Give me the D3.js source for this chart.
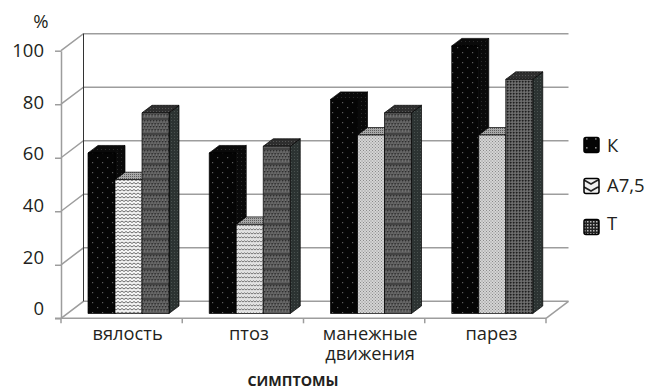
<!DOCTYPE html>
<html>
<head>
<meta charset="utf-8">
<script src="https://cdn.jsdelivr.net/npm/d3@7"></script>
<style>
  body { margin: 0; background: #fff; }
  text { font-family: "Open Sans", sans-serif; fill: #231f20; }
</style>
</head>
<body>
<svg id="chart" width="646" height="389"></svg>
<script>
const categories = ["вялость", "птоз", "манежные движения", "парез"];
const seriesNames = ["К", "А7,5", "Т"];
const valuesK = [60, 60, 80, 100];
const valuesA = [50, 33.3, 66.7, 66.7];
const valuesT = [75, 62.5, 75, 87.5];
const yTicks = [0, 20, 40, 60, 80, 100];

const svg = d3.select("#chart");
const defs = svg.append("defs");

// fill patterns, the scan makes them look different from one group to the next
function pattern(id, w, h, bg, draw) {
  const p = defs.append("pattern")
    .attr("id", id)
    .attr("patternUnits", "userSpaceOnUse")
    .attr("width", w)
    .attr("height", h);
  p.append("rect").attr("width", w).attr("height", h).attr("fill", bg);
  draw(p);
}
function dots(p, pts, color, r) {
  pts.forEach(d => p.append("rect").attr("x", d[0]).attr("y", d[1]).attr("width", r).attr("height", r).attr("fill", color));
}

pattern("kDots", 10, 10, "#050505", p => dots(p, [[2, 2], [7, 7]], "#5c5c5c", 1.2));
pattern("kSide", 4, 4, "#0a0a0a", p => dots(p, [[1, 1]], "#2b2b2b", 1));
pattern("aZig", 8, 7, "#f4f4f4", p => {
  p.append("path").attr("d", "M0 2L2 0.5L4 2L6 0.5L8 2M0 5.5L2 4L4 5.5L6 4L8 5.5")
    .attr("fill", "none").attr("stroke", "#6a6a6a").attr("stroke-width", 1);
});
pattern("aFine", 6, 4, "#e2e2e2", p => {
  p.append("path").attr("d", "M0 2L1.5 0.8L3 2L4.5 0.8L6 2").attr("fill", "none").attr("stroke", "#777").attr("stroke-width", 1);
});
pattern("aStip", 3, 3, "#d4d4d4", p => dots(p, [[0, 0], [1.5, 1.5]], "#8a8a8a", 1));
pattern("aTop", 2, 2, "#a8a8a8", p => dots(p, [[0, 0]], "#5e5e5e", 1));
pattern("tBand", 3, 15, "#5c5c5c", p => {
  dots(p, [[0, 0], [1.5, 3], [0, 6], [1.5, 9]], "#2e2e2e", 1.3);
  dots(p, [[1.5, 1.5], [0, 4.5], [1.5, 7.5], [0, 10.5]], "#858585", 1);
  p.append("rect").attr("y", 13.5).attr("width", 3).attr("height", 1).attr("fill", "#2a2a2a");
});
pattern("tCheck", 3, 3, "#5e5e5e", p => {
  dots(p, [[0, 0]], "#1e1e1e", 1.5);
  dots(p, [[1.5, 1.5]], "#9a9a9a", 1);
});
pattern("tSide", 3, 3, "#2c3332", p => dots(p, [[0, 0]], "#4a5250", 1));
pattern("tTop", 3, 3, "#2e2e2e", p => dots(p, [[0, 0]], "#555", 1));
pattern("legK", 9, 9, "#050505", p => dots(p, [[2, 2]], "#888", 1.6));
pattern("legA", 14, 7, "#f0f0f0", p => {
  p.append("path").attr("d", "M0 1L7 5L14 1").attr("fill", "none").attr("stroke", "#222").attr("stroke-width", 1.6);
});
pattern("legT", 3, 3, "#222", p => dots(p, [[0, 0]], "#bbb", 1.5));

const seriesValues = [valuesK, valuesA, valuesT];
const frontFills = [
  ["kDots", "kDots", "kDots", "kDots"],
  ["aZig", "aFine", "aStip", "aStip"],
  ["tBand", "tBand", "tBand", "tCheck"]
];
const sideFills = ["kSide", "aStip", "tSide"];
const topFills = ["kSide", "aTop", "tTop"];
const legendFills = ["legK", "legA", "legT"];

const x = d3.scaleBand().domain(categories).range([61, 546]);
const y = d3.scaleLinear().domain([0, 100]).range([318.3, 50.7]);
const labelY = d3.scaleLinear().domain([0, 100]).range([309, 50.7]);
const inner = d3.scaleBand().domain(d3.range(3)).range([0, 81]);

const wallDx = 22.5, wallDy = -17;
const barDx = 10, barDy = -7.5;
const barShiftX = 27, barBase = 4.8;
const grey = "#9d9d9d";

// back wall and side wall
const grid = svg.append("g").attr("fill", "none").attr("stroke", grey).attr("stroke-width", 1.5);
grid.selectAll(".wall")
  .data(yTicks)
  .enter()
  .append("path")
  .attr("class", "wall")
  .attr("d", d => `M${x.range()[0]},${y(d)}l${wallDx},${wallDy}H${x.range()[1] + wallDx}`);
grid.append("path")
  .attr("d", `M${x.range()[1]},${y(0)}l${wallDx},${wallDy}`);
svg.append("line")
  .attr("x1", x.range()[0] + wallDx).attr("x2", x.range()[0] + wallDx)
  .attr("y1", y(100) + wallDy).attr("y2", y(0) + wallDy)
  .attr("stroke", "#333").attr("stroke-width", 1);

// value axis
const yAxis = svg.append("g")
  .attr("transform", `translate(${x.range()[0]},0)`)
  .call(d3.axisLeft(y).tickValues(yTicks).tickSize(6).tickSizeOuter(0));
yAxis.select(".domain").attr("stroke", grey).attr("stroke-width", 1.5);
yAxis.selectAll("line").attr("stroke", grey).attr("stroke-width", 1.5);
yAxis.selectAll("text")
  .attr("x", -17)
  .attr("y", d => labelY(d) - y(d))
  .attr("font-size", 18.5)
  .style("font-family", '"Open Sans", sans-serif')
  .attr("fill", "#231f20");

// category axis
const bottom = svg.append("g").attr("stroke", grey).attr("stroke-width", 1.5);
bottom.append("line")
  .attr("x1", x.range()[0] - 6).attr("x2", x.range()[1])
  .attr("y1", y(0)).attr("y2", y(0));
bottom.selectAll(".tick")
  .data([0, 1, 2, 3, 4])
  .enter()
  .append("line")
  .attr("class", "tick")
  .attr("x1", d => x.range()[0] + d * x.step())
  .attr("x2", d => x.range()[0] + d * x.step())
  .attr("y1", y(0)).attr("y2", y(0) + 5);

// bars, left to right so that the next bar covers the side of the one before
categories.forEach((cat, c) => {
  seriesValues.forEach((vals, s) => {
    const x0 = x(cat) + barShiftX + inner(s);
    const w = inner.bandwidth();
    const base = y(0) - barBase;
    const top = base - (y(0) - y(vals[c]));
    const g = svg.append("g").attr("stroke", "#000").attr("stroke-width", 0.7).attr("stroke-linejoin", "round");
    g.append("path")
      .attr("d", `M${x0 + w},${top}l${barDx},${barDy}V${base + barDy}l${-barDx},${-barDy}Z`)
      .attr("fill", `url(#${sideFills[s]})`);
    g.append("path")
      .attr("d", `M${x0},${top}l${barDx},${barDy}h${w}l${-barDx},${-barDy}Z`)
      .attr("fill", `url(#${topFills[s]})`);
    g.append("rect")
      .attr("x", x0).attr("y", top)
      .attr("width", w).attr("height", base - top)
      .attr("fill", `url(#${frontFills[s][c]})`);
  });
});

// category labels
const catLabels = svg.selectAll(".cat")
  .data(categories)
  .enter()
  .append("text")
  .attr("class", "cat")
  .attr("text-anchor", "middle")
  .attr("font-size", 18.3);
catLabels.each(function (d) {
  const cx = x(d) + x.bandwidth() / 2 + 6;
  d.split(" ").forEach((word, i) => {
    d3.select(this).append("tspan")
      .attr("x", cx)
      .attr("y", 340 + i * 20)
      .text(word);
  });
});

svg.append("text")
  .attr("x", 41).attr("y", 28)
  .attr("text-anchor", "middle")
  .attr("font-size", 18.5)
  .text("%");

svg.append("text")
  .attr("x", 293).attr("y", 385.5)
  .attr("text-anchor", "middle")
  .attr("font-size", 14.3)
  .attr("font-weight", 700)
  .attr("fill", "#000")
  .text("СИМПТОМЫ");

// legend
const legendY = d3.scalePoint().domain(seriesNames).range([145, 227]);
const legend = svg.selectAll(".legend-item")
  .data(seriesNames)
  .enter()
  .append("g")
  .attr("class", "legend-item")
  .attr("transform", d => `translate(584,${legendY(d)})`);
legend.append("rect")
  .attr("x", 0).attr("y", -7.5)
  .attr("width", 15).attr("height", 15)
  .attr("rx", 2)
  .attr("stroke", "#000")
  .attr("stroke-width", 1.5)
  .attr("fill", (d, i) => `url(#${legendFills[i]})`);
legend.append("text")
  .attr("x", 23)
  .attr("y", (d, i) => [6.5, 6, 3][i])
  .attr("font-size", 18.5)
  .text(d => d);
</script>
</body>
</html>
